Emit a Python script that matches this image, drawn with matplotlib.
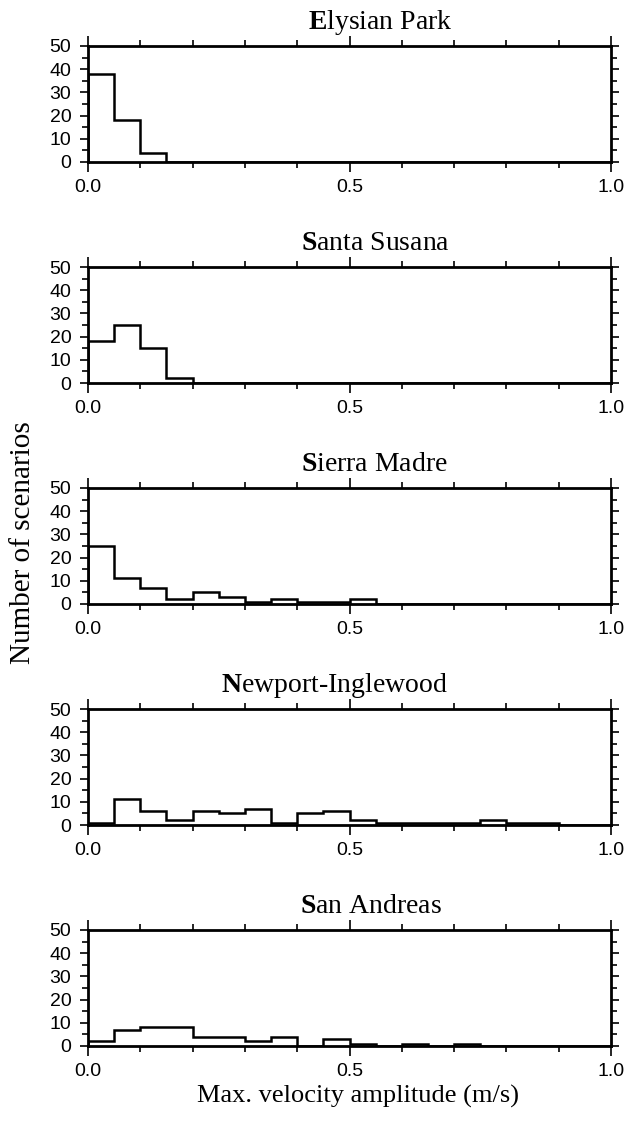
import numpy as np
import matplotlib
matplotlib.use("Agg")
import matplotlib.pyplot as plt
from matplotlib.ticker import MultipleLocator, FixedLocator

plt.rcParams['mathtext.fontset'] = 'custom'
plt.rcParams['mathtext.rm'] = 'Liberation Serif'
plt.rcParams['mathtext.bf'] = 'Liberation Serif:bold'

# bins of 0.05 m/s from 0 to 1
edges = np.round(np.arange(0, 1.0001, 0.05), 2)

names = ["Elysian Park", "Santa Susana", "Sierra Madre", "Newport-Inglewood", "San Andreas"]

elysian = [38, 18, 4]
susana = [18, 25, 15, 2]
madre = [25, 11, 7, 2, 5, 3, 1, 2, 1, 1, 2]
newport = [1, 11, 6, 2, 6, 5, 7, 1, 5, 6, 2, 1, 1, 1, 1, 2, 1, 1]
andreas = [2, 7, 8, 8, 4, 4, 2, 4, 0, 3, 1, 0, 1, 0, 1]

counts = [elysian, susana, madre, newport, andreas]

W, H = 629, 1122
fig = plt.figure(figsize=(W / 100, H / 100), dpi=100)

left, right = 88, 611
tops = [46, 267, 488, 709, 930]
height = 116
# title centres in pixels (titles are not exactly centred on the axes)
title_x = [380, 375, 374, 334, 371]

sans = 'Liberation Sans'
serif = 'Liberation Serif'

for i, name in enumerate(names):
    top = tops[i]
    ax = fig.add_axes([left / W, 1 - (top + height) / H, (right - left) / W, height / H])
    c = np.zeros(len(edges) - 1)
    c[:len(counts[i])] = counts[i]
    ax.stairs(c, edges, baseline=0, color='black', linewidth=1.8)
    ax.set_xlim(0, 1)
    ax.set_ylim(0, 50)
    for s in ax.spines.values():
        s.set_linewidth(2.0)
    ax.xaxis.set_major_locator(FixedLocator([0, 0.5, 1.0]))
    ax.xaxis.set_minor_locator(MultipleLocator(0.1))
    ax.yaxis.set_major_locator(MultipleLocator(10))
    ax.yaxis.set_minor_locator(MultipleLocator(5))
    ax.set_xticklabels(["0.0", "0.5", "1.0"])
    ax.tick_params(which='both', direction='out', top=True, right=True, width=1.2,
                   labelsize=14)
    ax.tick_params(axis='x', which='major', length=7, pad=5)
    ax.tick_params(axis='x', which='minor', length=4)
    ax.tick_params(axis='y', which='major', length=6, pad=6)
    ax.tick_params(axis='y', which='minor', length=4)
    for lab in ax.get_xticklabels() + ax.get_yticklabels():
        lab.set_fontfamily(sans)
    first, rest = name[0], name[1:]
    title = r"$\mathbf{" + first + r"}\text{" + rest + "}$"
    fig.text(title_x[i] / W, 1 - (top - 17) / H, title, ha='center', va='baseline',
             fontsize=20)

fig.text(23 / W, 1 - 543 / H, "Number of scenarios", rotation=90, ha='center', va='center',
         family=serif, fontsize=21)
fig.text(358 / W, 1 - 1096 / H, "Max. velocity amplitude (m/s)", ha='center', va='center',
         family=serif, fontsize=19)

fig.savefig("out.png", dpi=100)
